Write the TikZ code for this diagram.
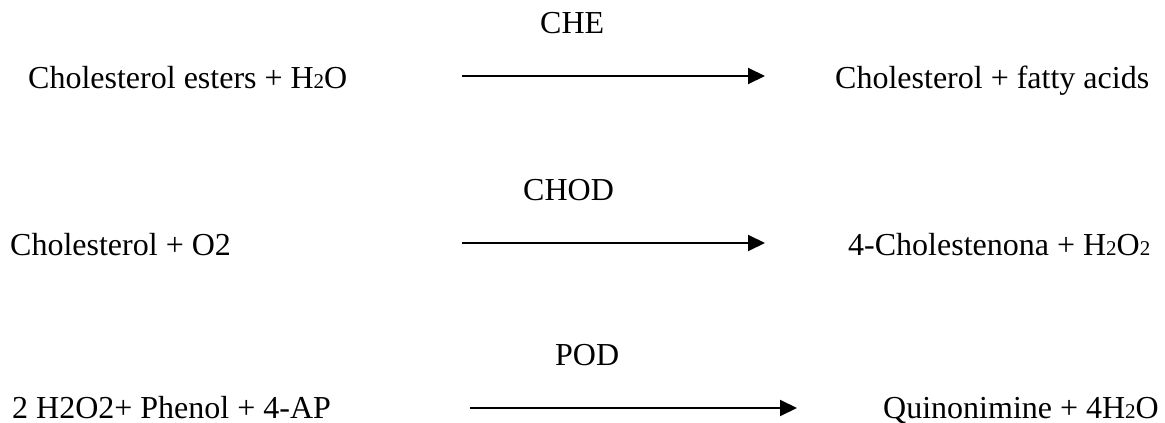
\documentclass[tikz,border=0pt]{standalone}
\usepackage{fontspec}
\setmainfont{Liberation Serif}
\usetikzlibrary{arrows.meta}
\newcommand{\sbt}{{\fontsize{21}{21}\selectfont 2}}
\begin{document}
\begin{tikzpicture}[x=1pt,y=-1pt,
  txt/.style={anchor=base west,inner sep=0pt,font=\fontsize{32}{38}\selectfont},
  rxn/.style={line width=2pt,-{Triangle[length=17pt,width=16pt]}}]
\useasboundingbox (0,0) rectangle (1165,423);
% row 1
\node[txt] (e1) at (540,34) {CHE};
\node[txt] (r1) at (28,88) {Cholesterol esters + H\sbt O};
\node[txt] (p1) at (835,88) {Cholesterol + fatty acids};
\coordinate (a1s) at (462,76);
\coordinate (a1e) at (765,76);
\draw[rxn] (a1s) -- (a1e);
% row 2
\node[txt] (e2) at (523,200) {CHOD};
\node[txt] (r2) at (10,255) {Cholesterol + O2};
\node[txt] (p2) at (848,255) {4-Cholestenona + H\sbt O\sbt};
\coordinate (a2s) at (462,243);
\coordinate (a2e) at (765,243);
\draw[rxn] (a2s) -- (a2e);
% row 3
\node[txt] (e3) at (555,365) {POD};
\node[txt] (r3) at (12,418) {2 H2O2+ Phenol + 4-AP};
\node[txt] (p3) at (883,418) {Quinonimine + 4H\sbt O};
\coordinate (a3s) at (470,408);
\coordinate (a3e) at (797,408);
\draw[rxn] (a3s) -- (a3e);
\end{tikzpicture}
\end{document}
